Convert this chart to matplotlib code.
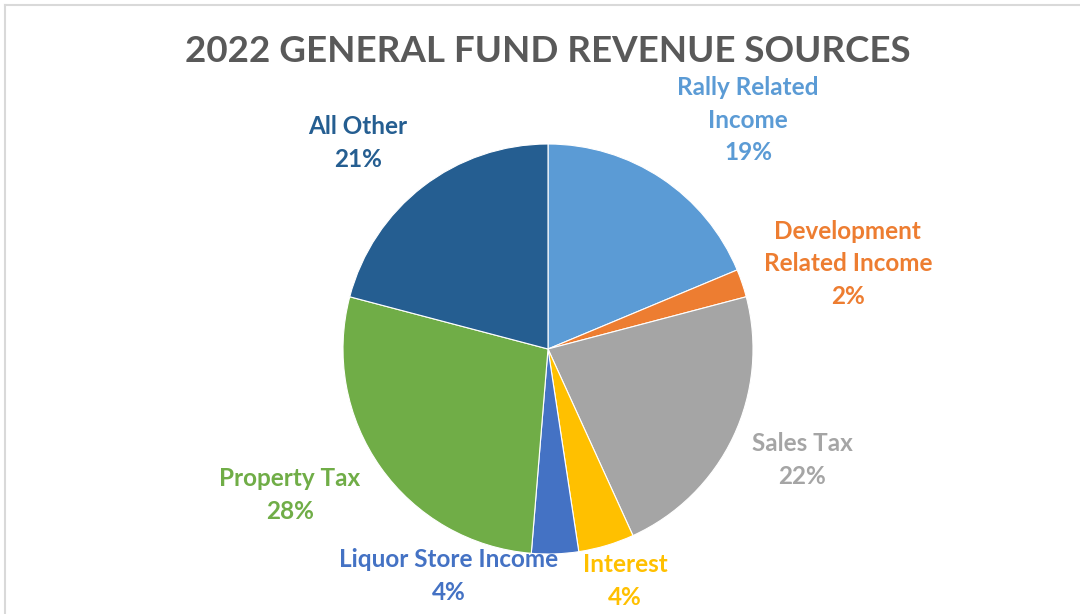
import matplotlib.pyplot as plt
import numpy as np
from matplotlib.lines import Line2D

# Revenue shares (percent), clockwise from 12 o'clock
categories = ["Rally Related\nIncome", "Development\nRelated Income", "Sales Tax",
              "Interest", "Liquor Store Income", "Property Tax", "All Other"]
shares = [18.7, 2.2, 22.3, 4.4, 3.7, 27.8, 20.9]
colors = ["#5B9BD5", "#ED7D31", "#A5A5A5", "#FFC000", "#4472C4", "#70AD47", "#255E91"]

# label centres, in pie-radius units
label_pos = [(0.976, 1.117), (1.463, 0.415), (1.239, -0.541), (0.376, -1.132),
             (-0.483, -1.107), (-1.259, -0.712), (-0.927, 1.005)]

plt.rcParams['font.family'] = ['Lato', 'DejaVu Sans']

W, H = 1080, 614
fig = plt.figure(figsize=(W / 100, H / 100), dpi=100)

# pie centre and radius in pixels
cx, cy, r = 548, 349, 205
ax = fig.add_axes([(cx - r) / W, (H - cy - r) / H, 2 * r / W, 2 * r / H])
ax.pie(shares, colors=colors, startangle=90, counterclock=False, radius=1,
       wedgeprops=dict(edgecolor='white', linewidth=0.8))
ax.set_xlim(-1, 1)
ax.set_ylim(-1, 1)
ax.set_aspect('equal')
ax.axis('off')

total = sum(shares)
for name, val, col, (lx, ly) in zip(categories, shares, colors, label_pos):
    ax.text(lx, ly, f"{name}\n{val / total * 100:.0f}%", color=col, fontsize=17.5,
            fontweight='bold', ha='center', va='center', linespacing=1.5,
            clip_on=False)

fig.text(cx / W, 1 - 52 / H, "2022 GENERAL FUND REVENUE SOURCES", color="#595959",
         fontsize=26.5, fontweight='bold', ha='center', va='center')

# light frame on top and left edges
fig.add_artist(Line2D([5 / W, 1], [1 - 5 / H, 1 - 5 / H], color="#D9D9D9", lw=1.5))
fig.add_artist(Line2D([5 / W, 5 / W], [0, 1 - 5 / H], color="#D9D9D9", lw=1.5))

fig.savefig("out.png", dpi=100, facecolor='white')
